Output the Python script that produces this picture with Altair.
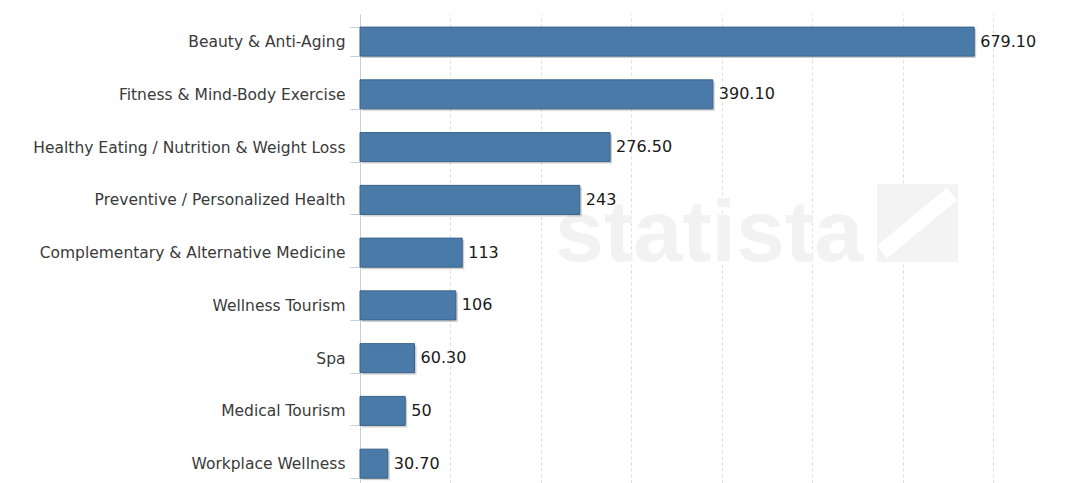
import altair as alt
import pandas as pd

categories = [
    "Beauty & Anti-Aging",
    "Fitness & Mind-Body Exercise",
    "Healthy Eating / Nutrition & Weight Loss",
    "Preventive / Personalized Health",
    "Complementary & Alternative Medicine",
    "Wellness Tourism",
    "Spa",
    "Medical Tourism",
    "Workplace Wellness",
]
values = [679.10, 390.10, 276.50, 243, 113, 106, 60.30, 50, 30.70]
value_labels = ["679.10", "390.10", "276.50", "243", "113", "106", "60.30", "50", "30.70"]
x_ticks = [0, 100, 200, 300, 400, 500, 600, 700]

df = pd.DataFrame({"category": categories, "value": values, "label": value_labels})

yscale = alt.Scale(domain=categories, paddingInner=0.45, paddingOuter=0.17, align=0.73)
xscale = alt.Scale(domain=[0, 785], nice=False, zero=True)

base = alt.Chart(df)

bars = base.mark_bar(color="#4a7ba8", stroke="#3a6288", strokeWidth=1).encode(
    x=alt.X(
        "value:Q", scale=xscale, title=None,
        axis=alt.Axis(
            values=x_ticks, labels=False, ticks=False, domain=False,
            grid=True, gridColor="#dddddd", gridDash=[3, 3], gridWidth=1,
        ),
    ),
    y=alt.Y(
        "category:N", sort=categories, scale=yscale, title=None,
        axis=alt.Axis(
            labelFont="DejaVu Sans", labelFontSize=15.5, labelColor="#3a3a3a",
            labelPadding=5, tickBand="extent", tickColor="#c0d0e0", tickSize=10,
            domainColor="#c0d0e0", domainWidth=1, labelLimit=400, grid=False,
        ),
    ),
)

shadow = base.mark_bar(color="#000000", opacity=0.18, xOffset=2, yOffset=2).encode(
    x=alt.X("value:Q", scale=xscale), y=alt.Y("category:N", sort=categories, scale=yscale)
)

labels = base.mark_text(
    align="left", baseline="middle", dx=6, font="DejaVu Sans", fontSize=16,
    color="#1a1a1a",
).encode(
    x=alt.X("value:Q", scale=xscale),
    y=alt.Y("category:N", sort=categories, scale=yscale),
    text="label:N",
)

wm = pd.DataFrame({"t": ["statista"]})
watermark = alt.Chart(wm).mark_text(
    font="Liberation Sans", fontWeight="bold", fontSize=88, color="#f2f2f2",
    align="left", baseline="alphabetic",
).encode(text="t:N", x=alt.value(195), y=alt.value(247))

logo_box = alt.Chart(wm).mark_rect(color="#f3f3f3").encode(
    x=alt.value(517), x2=alt.value(598), y=alt.value(170), y2=alt.value(248)
)
logo_curve = alt.Chart(wm).mark_rule(color="#ffffff", strokeWidth=16).encode(
    x=alt.value(522), x2=alt.value(592), y=alt.value(238), y2=alt.value(180)
)

chart = alt.layer(watermark, logo_box, logo_curve, shadow, bars, labels).properties(
    width=710, height=469,
    background="white",
    autosize=alt.AutoSizeParams(type="none"),
    padding={"left": 360, "top": 14, "right": 0, "bottom": 0},
).configure_view(stroke=None)

chart.save("out.html", embed_options={"renderer": "svg", "actions": False})
